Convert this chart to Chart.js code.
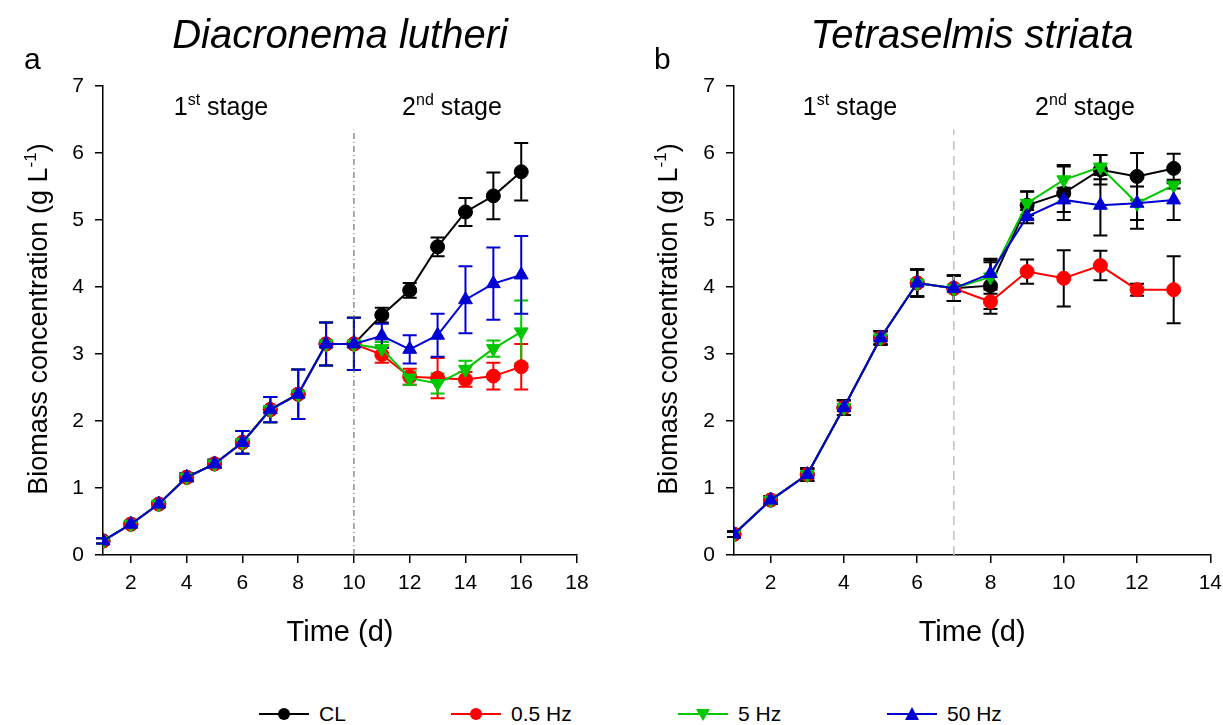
<!DOCTYPE html>
<html>
<head>
<meta charset="utf-8">
<script src="https://cdn.jsdelivr.net/npm/chart.js@4"></script>
<style>
  html, body { margin: 0; padding: 0; background: #fff; overflow: hidden; }
  body { width: 1223px; height: 725px; position: relative; font-family: Arial, "Liberation Sans", sans-serif; color: #000; }
  canvas { position: absolute; top: 0; }
  .txt { position: absolute; white-space: nowrap; line-height: 1; }
  .title { font-size: 40px; font-style: italic; transform: translateX(-50%); top: 14px; }
  .letter { font-size: 30px; top: 44px; }
  .stage { font-size: 25px; transform: translateX(-50%); top: 94px; }
  .stage sup { font-size: 16px; vertical-align: 10px; line-height: 0; }
  .ytitle { font-size: 27px; transform: translate(-50%, -50%) rotate(-90deg); top: 319px; }
  .ytitle sup { font-size: 17px; vertical-align: 11px; line-height: 0; }
  .leg { position: absolute; top: 703px; height: 22px; display: flex; align-items: center; font-size: 21px; }
  .leg svg { margin-right: 10px; }
</style>
</head>
<body>
<canvas id="chartA" width="600" height="660" style="left:0"></canvas>
<canvas id="chartB" width="600" height="660" style="left:630px"></canvas>

<div class="txt title" style="left:340px">Diacronema lutheri</div>
<div class="txt title" style="left:972px">Tetraselmis striata</div>
<div class="txt letter" style="left:24px">a</div>
<div class="txt letter" style="left:654px">b</div>
<div class="txt stage" style="left:221px">1<sup>st</sup> stage</div>
<div class="txt stage" style="left:452px">2<sup>nd</sup> stage</div>
<div class="txt stage" style="left:850px">1<sup>st</sup> stage</div>
<div class="txt stage" style="left:1085px">2<sup>nd</sup> stage</div>
<div class="txt ytitle" style="left:38px">Biomass concentration (g L<sup>-1</sup>)</div>
<div class="txt ytitle" style="left:668px">Biomass concentration (g L<sup>-1</sup>)</div>
<div id="legend"></div>

<script>
// Time axis (days)
const daysA = [1, 2, 3, 4, 5, 6, 7, 8, 9, 10, 11, 12, 13, 14, 15, 16];
const daysB = [1, 2, 3, 4, 5, 6, 7, 8, 9, 10, 11, 12, 13];

const seriesNames = ['CL', '0.5 Hz', '5 Hz', '50 Hz'];
const seriesColors = ['#000000', '#ff0000', '#00c800', '#0000d4'];

// a - Diacronema lutheri, biomass (g/L)
const clA    = [0.21, 0.46, 0.76, 1.16, 1.36, 1.68, 2.17, 2.40, 3.15, 3.15, 3.58, 3.95, 4.60, 5.12, 5.36, 5.72];
const hz05A  = [0.21, 0.46, 0.76, 1.16, 1.36, 1.68, 2.17, 2.40, 3.15, 3.15, 2.99, 2.66, 2.64, 2.62, 2.67, 2.81];
const hz5A   = [0.21, 0.46, 0.76, 1.16, 1.36, 1.68, 2.17, 2.40, 3.15, 3.15, 3.08, 2.64, 2.56, 2.77, 3.08, 3.33];
const hz50A  = [0.21, 0.46, 0.76, 1.16, 1.36, 1.68, 2.17, 2.40, 3.15, 3.15, 3.27, 3.07, 3.28, 3.81, 4.05, 4.18];
// standard deviations
const clErrA   = [0.04, 0.03, 0.04, 0.06, 0.06, 0.17, 0.19, 0.37, 0.32, 0.39, 0.11, 0.11, 0.14, 0.21, 0.35, 0.43];
const hz05ErrA = [0.04, 0.03, 0.04, 0.06, 0.06, 0.17, 0.19, 0.37, 0.32, 0.39, 0.12, 0.12, 0.30, 0.11, 0.20, 0.34];
const hz5ErrA  = [0.04, 0.03, 0.04, 0.06, 0.06, 0.17, 0.19, 0.37, 0.32, 0.39, 0.10, 0.10, 0.15, 0.13, 0.12, 0.47];
const hz50ErrA = [0.04, 0.03, 0.04, 0.06, 0.06, 0.17, 0.19, 0.37, 0.32, 0.39, 0.18, 0.21, 0.32, 0.50, 0.54, 0.58];

// b - Tetraselmis striata, biomass (g/L)
const clB    = [0.31, 0.82, 1.20, 2.20, 3.24, 4.06, 3.98, 4.02, 5.22, 5.40, 5.75, 5.65, 5.77];
const hz05B  = [0.31, 0.82, 1.20, 2.20, 3.24, 4.06, 3.98, 3.78, 4.23, 4.13, 4.32, 3.96, 3.96];
const hz5B   = [0.31, 0.82, 1.20, 2.20, 3.24, 4.06, 3.98, 4.15, 5.25, 5.60, 5.79, 5.25, 5.52];
const hz50B  = [0.31, 0.82, 1.20, 2.20, 3.24, 4.06, 3.98, 4.20, 5.05, 5.30, 5.22, 5.25, 5.30];
const clErrB   = [0.04, 0.06, 0.09, 0.11, 0.10, 0.20, 0.19, 0.35, 0.20, 0.40, 0.22, 0.35, 0.22];
const hz05ErrB = [0.04, 0.06, 0.09, 0.11, 0.10, 0.20, 0.19, 0.18, 0.18, 0.42, 0.22, 0.09, 0.50];
const hz5ErrB  = [0.04, 0.06, 0.09, 0.11, 0.10, 0.20, 0.19, 0.25, 0.18, 0.22, 0.18, 0.25, 0.05];
const hz50ErrB = [0.04, 0.06, 0.09, 0.11, 0.10, 0.20, 0.19, 0.22, 0.10, 0.18, 0.45, 0.38, 0.30];

// tick labels
const xTicksA = [2, 4, 6, 8, 10, 12, 14, 16, 18];
const xTicksB = [2, 4, 6, 8, 10, 12, 14];
const yTicks = [0, 1, 2, 3, 4, 5, 6, 7];

const FONT = 'Arial, "Liberation Sans", sans-serif';

// vertical error bars, drawn under the markers
const errorBars = {
    id: 'errorBars',
    beforeDatasetsDraw(chart, args, opts) {
        const { ctx, scales: { x, y } } = chart;
        ctx.save();
        ctx.lineWidth = 2;
        chart.data.datasets.forEach((ds) => {
            if (!ds.errors) return;
            ctx.strokeStyle = opts.color || ds.borderColor;
            ds.data.forEach((p, j) => {
                const e = ds.errors[j];
                if (!e) return;
                const px = x.getPixelForValue(p.x);
                const top = y.getPixelForValue(p.y + e);
                const bot = y.getPixelForValue(p.y - e);
                ctx.beginPath();
                ctx.moveTo(px, top); ctx.lineTo(px, bot);
                ctx.moveTo(px - 7, top); ctx.lineTo(px + 7, top);
                ctx.moveTo(px - 7, bot); ctx.lineTo(px + 7, bot);
                ctx.stroke();
            });
        });
        ctx.restore();
    }
};

// dashed line separating the two stages
const stageLine = {
    id: 'stageLine',
    beforeDatasetsDraw(chart, args, opts) {
        const { ctx, scales: { x, y } } = chart;
        const px = x.getPixelForValue(opts.at);
        ctx.save();
        ctx.strokeStyle = opts.color;
        ctx.lineWidth = opts.width;
        ctx.setLineDash(opts.dash);
        ctx.beginPath();
        ctx.moveTo(px, y.getPixelForValue(0));
        ctx.lineTo(px, y.getPixelForValue(opts.top));
        ctx.stroke();
        ctx.restore();
    }
};

function makeDatasets(days, values, errors) {
    return values.map((vals, i) => ({
        label: seriesNames[i],
        data: days.map((d, j) => ({ x: d, y: vals[j] })),
        errors: errors[i],
        order: 3 - i,             // 50 Hz drawn on top, CL at the bottom
        borderColor: seriesColors[i],
        backgroundColor: seriesColors[i],
        borderWidth: 2,
        pointStyle: i < 2 ? 'circle' : 'triangle',
        rotation: i === 2 ? 180 : 0,
        pointRadius: i < 2 ? 7 : 8,
        pointBorderWidth: 1,
        tension: 0
    }));
}

function makeChart(id, days, values, errors, xMax, xTicks, yWidth, padRight, line, errColor) {
    return new Chart(document.getElementById(id), {
        type: 'line',
        data: { datasets: makeDatasets(days, values, errors) },
        plugins: [errorBars, stageLine],
        options: {
            responsive: false,
            animation: false,
            layout: { padding: { top: 86, right: padRight, left: 0, bottom: 0 } },
            plugins: {
                legend: { display: false },
                tooltip: { enabled: false },
                errorBars: { color: errColor },
                stageLine: line
            },
            scales: {
                x: {
                    type: 'linear',
                    min: 1,
                    max: xMax,
                    afterBuildTicks: (s) => { s.ticks = xTicks.map(v => ({ value: v })); },
                    afterFit: (s) => { s.height = 105; },
                    ticks: { color: '#000', font: { family: FONT, size: 21 }, padding: 8 },
                    grid: { drawOnChartArea: false, drawTicks: true, tickLength: 8, color: '#000', lineWidth: 1.5 },
                    border: { display: true, color: '#000', width: 1.5 },
                    title: { display: true, text: 'Time (d)', color: '#000', font: { family: FONT, size: 29 }, padding: { top: 4, bottom: 10 } }
                },
                y: {
                    min: 0,
                    max: 7,
                    afterBuildTicks: (s) => { s.ticks = yTicks.map(v => ({ value: v })); },
                    afterFit: (s) => { s.width = yWidth; },
                    ticks: { color: '#000', font: { family: FONT, size: 21 }, padding: 11 },
                    grid: { drawOnChartArea: false, drawTicks: true, tickLength: 8, color: '#000', lineWidth: 1.5 },
                    border: { display: true, color: '#000', width: 1.5 }
                }
            }
        }
    });
}

makeChart('chartA', daysA, [clA, hz05A, hz5A, hz50A], [clErrA, hz05ErrA, hz5ErrA, hz50ErrA],
    18, xTicksA, 103, 23, { at: 10, top: 6.35, color: '#555', width: 1, dash: [6, 3, 1, 3] }, null);
makeChart('chartB', daysB, [clB, hz05B, hz5B, hz50B], [clErrB, hz05ErrB, hz5ErrB, hz50ErrB],
    14, xTicksB, 104, 14, { at: 7, top: 6.35, color: '#c0c0c0', width: 1.5, dash: [9, 6] }, '#000');

// shared legend
const legendPos = [259, 451, 678, 887];
const legend = document.getElementById('legend');
seriesNames.forEach((name, i) => {
    const c = seriesColors[i];
    let marker;
    if (i < 2) marker = `<circle cx="25" cy="11" r="6" fill="${c}"/>`;
    else if (i === 2) marker = `<polygon points="18,6 32,6 25,18" fill="${c}"/>`;
    else marker = `<polygon points="18,17 32,17 25,4" fill="${c}"/>`;
    const el = document.createElement('div');
    el.className = 'leg';
    el.style.left = legendPos[i] + 'px';
    el.innerHTML = `<svg width="50" height="22"><line x1="0" y1="11" x2="50" y2="11" stroke="${c}" stroke-width="2"/>${marker}</svg><span>${name}</span>`;
    legend.appendChild(el);
});
</script>
</body>
</html>
